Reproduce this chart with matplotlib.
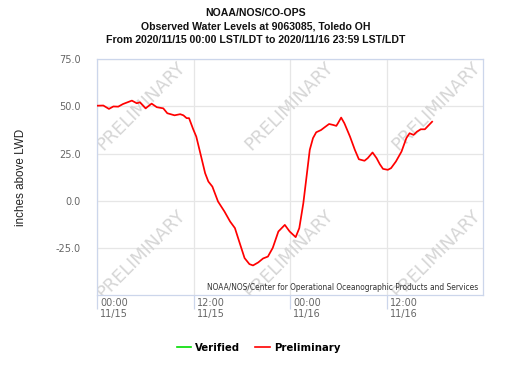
import matplotlib
matplotlib.use("Agg")
import matplotlib.pyplot as plt
import matplotlib.transforms as mtransforms
from matplotlib.lines import Line2D

# Data: hours since 2020/11/15 00:00, water level (inches above LWD)
hours = [0.0, 0.75, 1.45, 2.0, 2.6, 3.2, 4.3, 4.9, 5.3, 6.0, 6.75, 7.4, 8.2, 8.7,
         9.6, 10.3, 10.7, 11.1, 11.4, 11.9, 12.3, 12.7, 13.4, 13.8, 14.3, 15.0,
         15.8, 16.5, 17.1, 17.7, 18.3, 18.9, 19.35, 20.0, 20.6, 21.2, 21.8, 22.5,
         23.3, 23.9, 24.65, 25.1, 25.6, 26.0, 26.4, 26.8, 27.2, 27.8, 28.2, 28.8,
         29.3, 29.7, 29.9, 30.3, 30.7, 31.4, 32.0, 32.5, 33.2, 33.6, 34.2, 34.7,
         35.1, 35.5, 36.1, 36.5, 37.1, 37.8, 38.4, 38.8, 39.3, 39.7, 40.2, 40.7,
         41.1, 41.6]
levels = [50.4, 50.5, 48.7, 50.0, 49.9, 51.3, 53.1, 51.7, 52.2, 49.0, 51.5, 49.6,
          49.0, 46.4, 45.3, 45.9, 45.3, 43.8, 43.8, 38.1, 34.0, 27.0, 14.6, 10.2,
          7.5, -0.4, -5.7, -11.0, -14.5, -22.5, -30.4, -33.6, -34.3, -32.7, -30.6,
          -29.6, -25.0, -16.3, -12.8, -16.3, -19.3, -14.5, -1.3, 12.8, 27.0, 33.2,
          36.3, 37.5, 38.8, 40.7, 40.2, 39.7, 41.1, 44.1, 41.1, 34.0, 27.0, 22.0,
          21.2, 22.6, 25.6, 22.6, 19.4, 16.9, 16.4, 17.3, 20.8, 26.1, 33.2, 35.8,
          34.9, 36.6, 37.9, 37.9, 39.7, 41.9]

xticks = [0, 12, 24, 36]
xticklabels = ["00:00\n11/15", "12:00\n11/15", "00:00\n11/16", "12:00\n11/16"]
yticks = [-25, 0, 25, 50, 75]
yticklabels = ["-25.0", "0.0", "25.0", "50.0", "75.0"]

title_lines = ["NOAA/NOS/CO-OPS",
               "Observed Water Levels at 9063085, Toledo OH",
               "From 2020/11/15 00:00 LST/LDT to 2020/11/16 23:59 LST/LDT"]

fig = plt.figure(figsize=(5.12, 3.73), dpi=100)
ax = fig.add_axes([0.190, 0.209, 0.753, 0.632])

ax.set_xlim(0, 47.9)
ax.set_ylim(-50, 75)

grid_c = "#e6e6e6"
spine_c = "#ccd6eb"
ax.set_yticks(yticks)
ax.set_yticklabels(yticklabels)
ax.set_xticks(xticks)
ax.set_xticklabels(xticklabels)
ax.grid(True, color=grid_c, lw=0.9)
ax.set_axisbelow(True)
for s in ax.spines.values():
    s.set_color(spine_c)
    s.set_linewidth(0.9)
ax.tick_params(axis="y", length=0, colors="#666666", labelsize=7, pad=12)
ax.tick_params(axis="x", length=10, width=0.9, color=spine_c, labelcolor="#666666",
               labelsize=7, pad=-8, direction="out")
offset = mtransforms.ScaledTranslation(3 / 100, 0, fig.dpi_scale_trans)
for lab in ax.get_xticklabels():
    lab.set_horizontalalignment("left")
    lab.set_transform(lab.get_transform() + offset)
    lab.set_linespacing(1.1)
for lab in ax.get_yticklabels():
    lab.set_family("DejaVu Sans")

# Watermarks
for wx in [0.113, 0.497, 0.880]:
    for wy in [0.80, 0.175]:
        ax.text(wx, wy, "PRELIMINARY", transform=ax.transAxes, rotation=45,
                ha="center", va="center", fontsize=12.8, color="#d6d6d6",
                family="DejaVu Sans", clip_on=True, zorder=1)

ax.plot(hours, levels, color="#ff0000", lw=1.25, zorder=3)

ax.text(0.988, 0.015, "NOAA/NOS/Center for Operational Oceanographic Products and Services",
        transform=ax.transAxes, ha="right", va="bottom", fontsize=5.45,
        color="#333333", family="DejaVu Sans", zorder=4)

ax.set_ylabel("inches above LWD", fontsize=8.4, family="Liberation Sans",
              color="#222222")
ax.yaxis.set_label_coords(-0.183, 0.5)

ys = [0.965, 0.93, 0.893]
for t, yy in zip(title_lines, ys):
    fig.text(0.5, yy, t, ha="center", va="center", fontsize=7.6, fontweight="bold",
             family="Liberation Sans", color="#111111")

handles = [Line2D([], [], color="#00dd00", lw=1.2),
           Line2D([], [], color="#ff0000", lw=1.2)]
fig.legend(handles, ["Verified", "Preliminary"], loc="center", ncol=2,
           bbox_to_anchor=(0.505, 0.068), frameon=False,
           prop={"family": "DejaVu Sans", "weight": "bold", "size": 7.3},
           handlelength=1.4, handletextpad=0.4, columnspacing=1.5)

fig.savefig("out.png", dpi=100)
